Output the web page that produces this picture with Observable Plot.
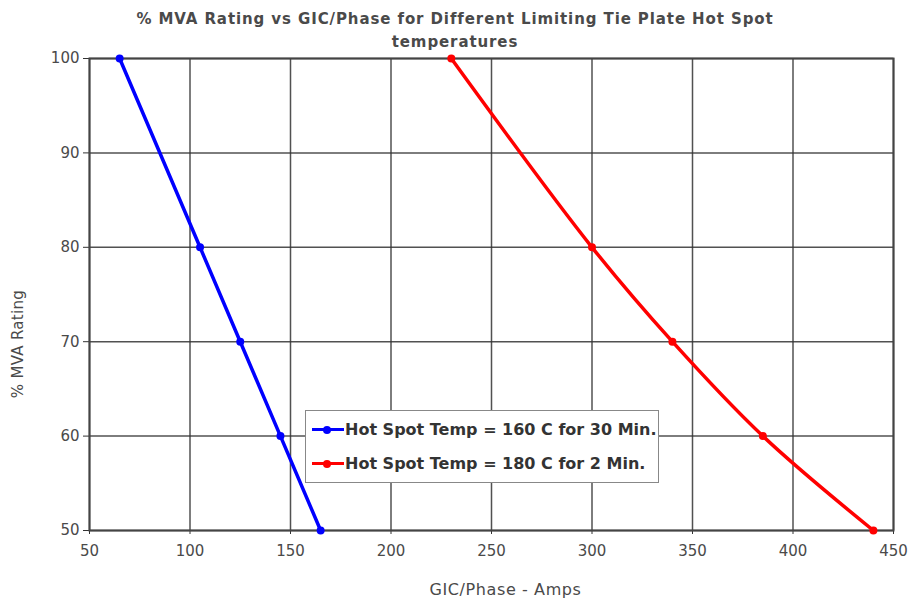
<!DOCTYPE html>
<html><head><meta charset="utf-8">
<script src="https://cdn.jsdelivr.net/npm/d3@7"></script>
<script src="https://cdn.jsdelivr.net/npm/@observablehq/plot@0.6"></script>
<style>
body{margin:0;background:#fff;font-family:"DejaVu Sans",sans-serif;}
#wrap{position:relative;width:910px;height:603px;}
#title{position:absolute;left:0;width:910px;top:8px;text-align:center;font-size:15px;font-weight:bold;color:#4a4a4a;line-height:23px;letter-spacing:0.9px;}
#ylab{position:absolute;left:18px;top:344px;transform:translate(-50%,-50%) rotate(-90deg);white-space:nowrap;font-size:15px;color:#4a4a4a;letter-spacing:0.3px;}
#legend{position:absolute;left:305px;top:410px;width:354px;height:73px;border:1.5px solid #888;background:#fff;box-sizing:border-box;font-weight:bold;font-size:16px;color:#333;}
.li{position:absolute;left:6px;display:flex;align-items:center;white-space:nowrap;}
.sw{position:relative;width:32px;height:10px;margin-right:1px;}
.sw .ln{position:absolute;left:0;right:0;top:3.5px;height:3px;}
.sw .dt{position:absolute;left:11px;top:1px;width:8px;height:8px;border-radius:50%;}
</style></head>
<body><div id="wrap"><div id="title">% MVA Rating vs GIC/Phase for Different Limiting Tie Plate Hot Spot<br>temperatures</div></div>
<script>
const seriesNames = ["Hot Spot Temp = 160 C for 30 Min.", "Hot Spot Temp = 180 C for 2 Min."];
const seriesColors = ["#0000ff", "#ff0000"];
const mvaRating = [100, 80, 70, 60, 50];
const gicBlue = [65, 105, 125, 145, 165];
const gicRed = [230, 300, 340, 385, 440];
const xTicks = [50, 100, 150, 200, 250, 300, 350, 400, 450];
const yTicks = [50, 60, 70, 80, 90, 100];
const xLabel = "GIC/Phase - Amps";
const yLabel = "% MVA Rating";

const blue = mvaRating.map((m, i) => ({x: gicBlue[i], y: m}));
const red = mvaRating.map((m, i) => ({x: gicRed[i], y: m}));

const chart = Plot.plot({
  width: 910, height: 603,
  marginLeft: 89, marginRight: 17, marginTop: 58, marginBottom: 73,
  style: {fontFamily: "DejaVu Sans, sans-serif", fontSize: "15px", color: "#444", background: "transparent"},
  x: {domain: [50, 450], ticks: xTicks, label: null},
  y: {domain: [50, 100], ticks: yTicks, label: null},
  marks: [
    Plot.gridX(xTicks, {stroke: "#333", strokeOpacity: 0.85, strokeWidth: 1.5}),
    Plot.gridY(yTicks, {stroke: "#333", strokeOpacity: 0.85, strokeWidth: 1.5}),
    Plot.axisX({ticks: xTicks, tickSize: 4, tickPadding: 11, stroke: "#333", fill: "#4a4a4a"}),
    Plot.axisY({ticks: yTicks, tickSize: 6, tickPadding: 4, stroke: "#333", fill: "#4a4a4a"}),
    Plot.frame({stroke: "#444", strokeWidth: 2}),
    Plot.line(blue, {x: "x", y: "y", stroke: seriesColors[0], strokeWidth: 3.5}),
    Plot.dot(blue, {x: "x", y: "y", fill: seriesColors[0], r: 4}),
    Plot.line(red, {x: "x", y: "y", stroke: seriesColors[1], strokeWidth: 3.5, curve: "catmull-rom"}),
    Plot.dot(red, {x: "x", y: "y", fill: seriesColors[1], r: 4}),
    Plot.text([xLabel], {frameAnchor: "bottom", dy: 64, dx: 14, fill: "#4a4a4a", fontSize: 16, style: "letter-spacing:0.6px"})
  ]
});
const wrap = document.getElementById("wrap");
wrap.insertBefore(chart, wrap.firstChild);
d3.select(chart).selectAll("text").filter(function(){return this.textContent===xLabel;}).style("letter-spacing","0.6px");

const yl = document.createElement("div");
yl.id = "ylab"; yl.textContent = yLabel;
wrap.appendChild(yl);

const leg = document.createElement("div");
leg.id = "legend";
seriesNames.forEach((n, i) => {
  const d = document.createElement("div");
  d.className = "li";
  d.style.top = (i === 0 ? 9 : 43) + "px";
  d.innerHTML = `<div class="sw"><div class="ln" style="background:${seriesColors[i]}"></div><div class="dt" style="background:${seriesColors[i]}"></div></div><span>${n}</span>`;
  leg.appendChild(d);
});
wrap.appendChild(leg);
</script></body></html>
